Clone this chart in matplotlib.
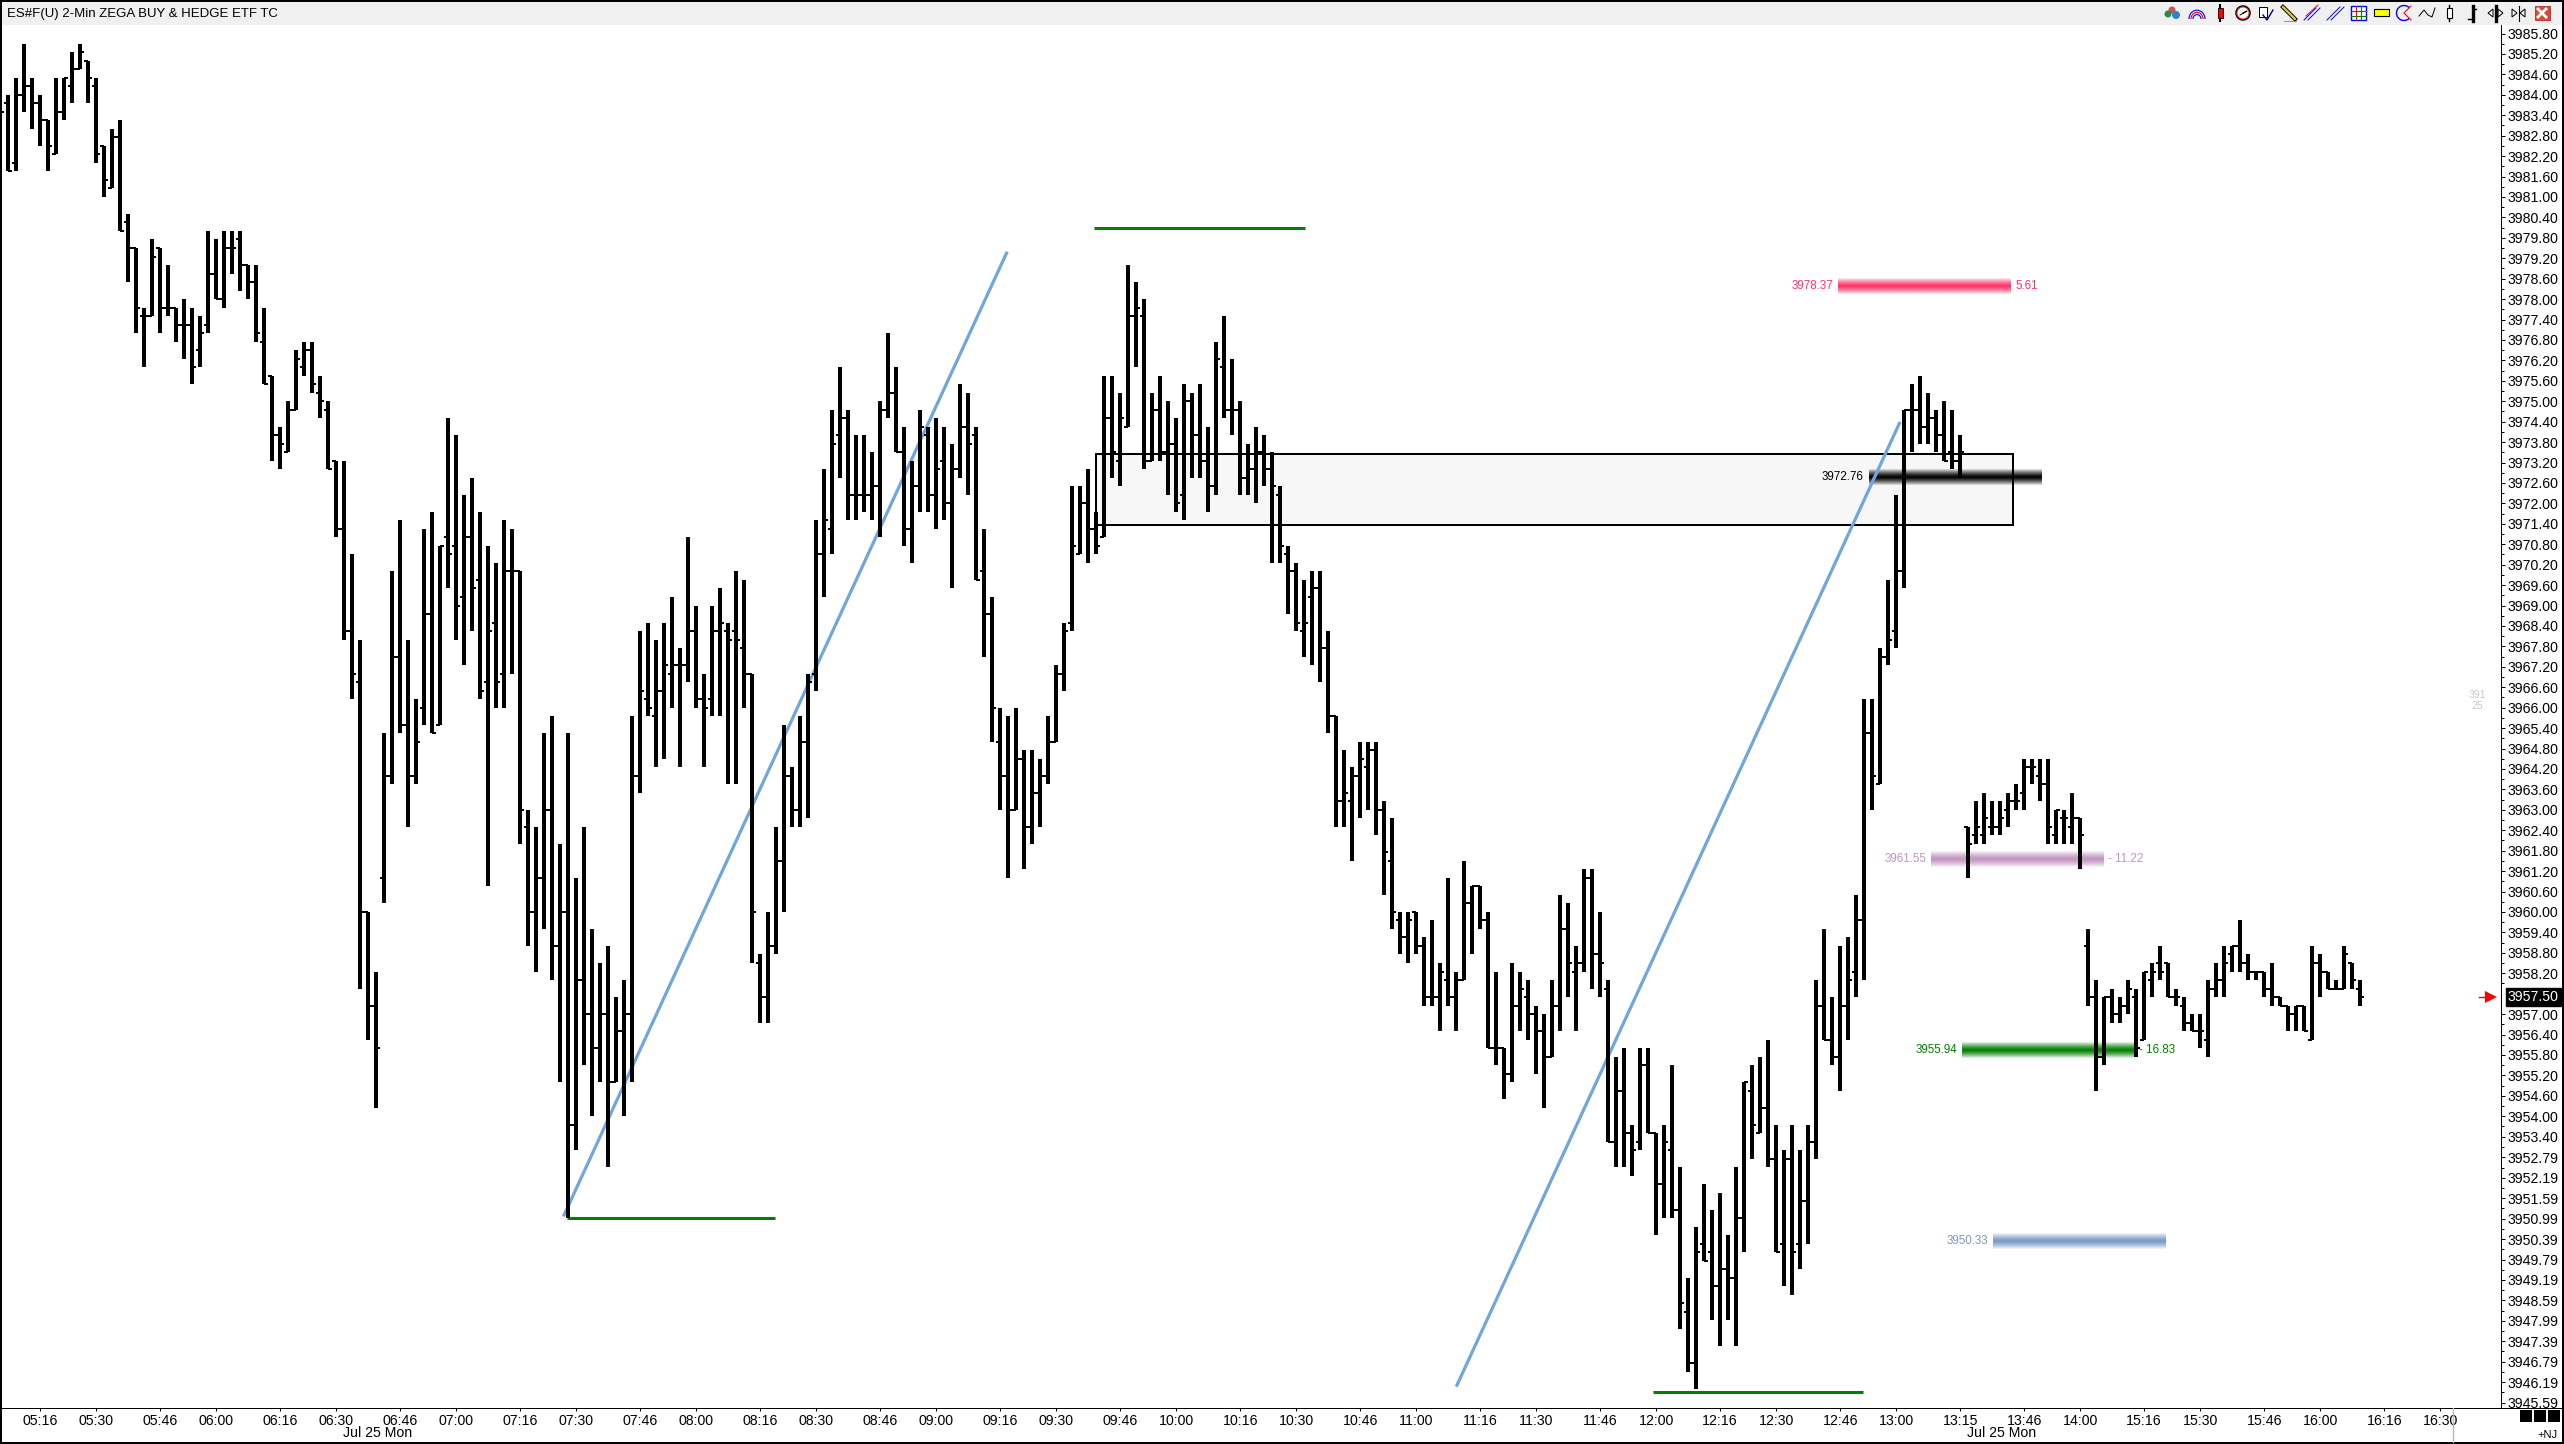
#!/usr/bin/env python3
# ES 2-min OHLC chart with the zones and trend lines on top

import numpy as np
import matplotlib
matplotlib.use("Agg")
import matplotlib.pyplot as plt
from matplotlib.patches import Rectangle, Circle, Polygon, Arc

plt.rcParams['font.family'] = ['Liberation Sans', 'DejaVu Sans']

opens = [3983.25,3983.75,3982,3984,3984.25,3983.75,3983.25,3982.25,3983.5,3984.25,
    3984.75,3985,3984.25,3982.5,3981.25,3982.75,3980.25,3979.5,3977.5,3977.5,
    3979.5,3977.75,3977.75,3977.25,3977.25,3976.5,3977.25,3978.75,3978,3979.5,
    3979.75,3979,3978.5,3976.75,3975.75,3974,3973.5,3974.75,3976,3976.5,
    3975.25,3974.75,3973.25,3971.25,3968.25,3966.75,3960,3957.25,3961,3964,
    3967.5,3965.5,3964,3966,3968.75,3965.5,3971,3970.75,3969.25,3971,
    3969.75,3966.75,3968.5,3967,3970,3970,3962.5,3960,3961,3963,
    3959,3960,3953.75,3958,3957,3956,3957,3955,3956.5,3957,
    3964,3966.25,3965.75,3966.5,3967,3967.25,3967.25,3968.25,3966.25,3966.25,
    3968.25,3968.25,3968.25,3967.75,3967,3958.5,3957.5,3959,3961.5,3964,
    3963,3965,3967,3970.5,3971.25,3974,3974.5,3972.25,3972.25,3972.25,
    3972.5,3974.75,3975.25,3973.5,3971.25,3972.5,3974,3972.25,3973.25,3972,
    3973,3974.25,3974,3970,3968.75,3965,3964,3963,3964.5,3962.5,
    3963.5,3964,3965,3967,3968.5,3970.5,3972,3971.25,3971,3974.5,
    3973.25,3974.25,3977.5,3977.5,3973.25,3974.75,3973.5,3973.75,3972.25,3975,
    3974,3973.25,3972.5,3976,3974.75,3974.75,3972.75,3973,3973.5,3973,
    3972.25,3970.5,3970,3968.25,3969.25,3969.5,3967.75,3965.75,3963.25,3963.25,
    3964,3964.25,3964.75,3963,3961.5,3959.75,3959.25,3960,3959,3957.5,
    3957.5,3958,3957.5,3958,3960.25,3960.75,3959.75,3956,3956,3955.25,
    3957.25,3957.5,3957,3956.5,3955.75,3957.25,3959.5,3958.25,3958.5,3961,
    3958.75,3957.75,3953.25,3954.75,3953.5,3953.25,3955.5,3953.5,3952,3953,
    3951.25,3948.25,3946.75,3950.25,3950,3949,3949.5,3949.25,3951,3954.75,
    3953.5,3954.25,3952.75,3950.25,3952.75,3950.25,3951.5,3953.25,3957.25,3956.25,
    3955.75,3957.25,3958.25,3959.75,3965.25,3963.75,3967.5,3968.25,3970,3974.75,
    3974.75,3974.25,3974.5,3974,3973.5,3973.25,3962.5,3962.25,3962.25,3962.5,
    3962.5,3963,3963.25,3963.5,3964.25,3964,3963.75,3962.25,3962.75,3962.5,
    3962.75,3959,3957.5,3955.75,3957.5,3957,3957.25,3957.5,3956.25,3958,
    3958.5,3958.5,3957.5,3957.25,3956.75,3956.5,3956.25,3957.75,3958,3958.75,
    3959,3958.5,3958.25,3958.25,3957.75,3957.5,3957.25,3957,3957.25,3956.25,
    3958.5,3958.25,3957.75,3957.75,3958.5,3957.75]
highs = [3984,3984,3984.5,3985.5,3984.5,3984,3983.25,3984.5,3984.5,3985.25,
    3985.5,3985,3984.5,3982.5,3983,3983.25,3980.5,3979.5,3977.75,3979.75,
    3979.5,3979,3977.75,3978,3977.75,3977.5,3980,3979.75,3980,3980,
    3980,3979,3979,3977.75,3975.75,3974.25,3975,3976.5,3976.75,3976.75,
    3975.75,3975,3973.25,3973.25,3970.5,3968,3960,3958.25,3965.25,3970,
    3971.5,3968,3966.25,3971.25,3971.75,3970.75,3974.5,3974,3972.25,3972.75,
    3971.75,3970.75,3970.25,3971.5,3971.25,3970,3963,3962.5,3965.25,3965.75,
    3962,3965.25,3961,3962.5,3959.5,3958.5,3959,3957.5,3958,3965.75,
    3968.25,3968.5,3968,3968.5,3969.25,3967.75,3971,3969,3967,3969,
    3969.5,3968.5,3970,3969.75,3967,3958.75,3960,3962.5,3965.5,3964.25,
    3965.75,3967,3971.5,3973,3974.75,3976,3974.75,3974,3974,3973.5,
    3975,3977,3976,3974.25,3973.25,3974.75,3974.25,3974.5,3974.25,3973.75,
    3975.5,3975.25,3974.25,3971.25,3969.25,3966,3965.75,3966,3964.75,3964.75,
    3964.5,3965.75,3967.25,3968.5,3972.5,3972.5,3973,3971.75,3975.75,3975.75,
    3975.25,3979,3978.5,3978,3975.25,3975.75,3975,3974.5,3975.5,3975.25,
    3975.5,3974.25,3976.75,3977.5,3976.25,3975,3973.75,3974.25,3974,3973.5,
    3972.5,3970.75,3970.25,3969.75,3970,3970,3968.25,3965.75,3964.75,3964.25,
    3965,3965,3965,3963.25,3962.75,3960,3960,3960,3959.25,3959.75,
    3958.5,3961,3958.25,3961.5,3960.75,3960.75,3960,3958.25,3956,3958.5,
    3958.25,3958,3957.25,3957,3958,3960.5,3960.25,3959,3961.25,3961.25,
    3960,3958,3955.75,3956,3953.75,3956,3956,3953.5,3953.75,3955.5,
    3952.5,3949.25,3950.75,3952,3951.25,3951.75,3950.5,3952.5,3955,3955.5,
    3955.75,3956.25,3953.75,3953,3953.75,3953,3953.75,3958,3959.5,3957.5,
    3959,3959.25,3960.5,3966.25,3966.25,3967.75,3969.75,3972.25,3974.75,3975.5,
    3975.75,3975.25,3974.75,3975,3974.75,3974,3962.5,3963.25,3963.5,3963.25,
    3963.25,3963.5,3963.75,3964.5,3964.5,3964.5,3964.5,3963,3963,3963.5,
    3962.75,3959.5,3958,3957.5,3957.75,3957.5,3958,3957.75,3958.25,3958.5,
    3959,3958.5,3957.75,3957.5,3957,3957,3958,3958.5,3959,3959,
    3959.75,3958.75,3958.25,3958.25,3958.5,3957.5,3957.25,3957.25,3957.25,3959,
    3958.75,3958.25,3958,3959,3958.5,3958]
lows = [3982,3981.75,3981.75,3983.5,3983,3982.5,3981.75,3982.25,3983.25,3983.75,
    3984.75,3983.75,3982,3981,3981.25,3980,3978.5,3977,3976,3977.5,
    3977,3977.5,3976.75,3976.25,3975.5,3976,3977,3978,3977.75,3978.75,
    3978.25,3978,3976.75,3975.5,3973.25,3973,3973.5,3974.75,3975.75,3975.25,
    3974.5,3973,3971,3968,3966.25,3957.75,3956.25,3954.25,3960.25,3963.75,
    3965.25,3962.5,3963.75,3965.5,3965.25,3965.5,3969.5,3968,3967.25,3968.25,
    3966.25,3960.75,3966,3966,3967,3962,3959,3958.25,3959.5,3958,
    3955,3951,3953,3955.5,3954,3955,3952.5,3955,3954,3955,
    3963.5,3965.75,3964.25,3964.5,3966,3964.25,3966.75,3966,3964.25,3965.75,
    3965.75,3963.75,3963.75,3966,3958.5,3956.75,3956.75,3958.75,3960,3962.5,
    3962.5,3962.75,3966.5,3969.25,3970.5,3972.75,3971.5,3971.5,3971.75,3971.5,
    3971,3974.5,3973.5,3970.75,3970.25,3971.75,3971.75,3971.25,3971.5,3969.5,
    3972.75,3972.25,3969.75,3967.5,3965,3963,3961,3963,3961.25,3962,
    3962.5,3963.75,3965,3966.5,3968.25,3970.5,3970.25,3970.5,3971,3972.75,
    3972.5,3974.25,3976,3973,3973.25,3973.25,3972.25,3971.75,3971.5,3972.75,
    3972.75,3971.75,3972.25,3974.5,3974,3972.25,3972.25,3972,3972.5,3970.25,
    3970.25,3968.75,3968.25,3967.5,3967.25,3966.75,3965.25,3962.5,3962.5,3961.5,
    3962.75,3963,3962.25,3960.5,3959.5,3958.75,3958.5,3958.75,3957.25,3957.25,
    3956.5,3957.25,3956.5,3958,3958.75,3959.5,3956,3955.5,3954.5,3955,
    3956.5,3956.25,3955.25,3954.25,3955.75,3956.5,3957.5,3956.5,3958.25,3957.75,
    3957.5,3953.25,3952.5,3952.5,3952.25,3953,3953.5,3950.5,3951,3951,
    3947.75,3946.5,3946,3949.75,3948,3947.25,3948,3947.25,3950,3952.75,
    3953.5,3952.5,3950,3949,3948.75,3949.5,3950.25,3952.75,3956.25,3955.5,
    3954.75,3956.25,3957.5,3958,3963,3963.75,3967.25,3967.75,3969.5,3973.5,
    3973.75,3973.75,3973.5,3973.25,3973,3972.75,3961,3962,3962,3962.25,
    3962.25,3962.5,3963,3963,3963.75,3963.25,3962,3962,3962,3962,
    3961.25,3957.25,3954.75,3955.5,3956.75,3956.75,3957,3955.75,3956.25,3957.5,
    3958,3957.5,3957.25,3956.5,3956.5,3956,3955.75,3957.5,3957.5,3958.25,
    3958.25,3958,3958,3957.5,3957.25,3957.25,3956.5,3956.5,3956.5,3956.25,
    3957.5,3957.75,3957.75,3957.75,3957.75,3957.25]
closes = [3983.5,3981.75,3984,3984.25,3983.75,3983.25,3982.5,3983.5,3984.5,3984.75,
    3985.25,3984.5,3982.25,3981.5,3982.75,3980,3979.5,3977.75,3977.5,3979.25,
    3977.75,3977.75,3977.25,3977.25,3976,3977,3978.75,3978,3979.5,3979.5,
    3979,3978.5,3977,3975.5,3974,3973.75,3974.75,3976.25,3976.5,3975.5,
    3975,3973,3971.25,3968.25,3967,3960,3957.25,3956,3964,3967.5,
    3965.5,3964,3965,3968.75,3965.25,3970.75,3970.5,3969,3971,3969.5,
    3966.5,3968.25,3966.75,3970,3970,3963,3960,3961,3963,3959,
    3960,3953.75,3958,3957,3956,3957,3955,3956.5,3957,3964,
    3966.5,3966,3966.5,3967.25,3967.25,3967.25,3968.25,3966.25,3966,3968.25,
    3968.5,3968,3968,3967,3960,3957.5,3959,3961.5,3964,3963,
    3965,3966.75,3970.5,3971.5,3973.75,3974.5,3972.25,3972.25,3972.25,3972.5,
    3974.75,3975.25,3973.5,3971.25,3972.5,3974.25,3972.25,3973,3972,3973,
    3974.25,3973.75,3969.75,3968.75,3966,3964,3963,3964.5,3962.5,3963.5,
    3964,3965,3967,3968.25,3970.75,3972,3971.25,3970.75,3974.5,3973.5,
    3974.5,3977.5,3977.75,3973.25,3974.75,3973.5,3973.75,3972,3975,3974,
    3973.25,3972.5,3976.25,3974.75,3974.75,3972.75,3973,3973.5,3973,3972.5,
    3970.75,3970,3968.5,3968.5,3969.5,3967.75,3965.75,3963.25,3963.5,3964,
    3964.5,3964.75,3963,3961.75,3960,3959.25,3959.75,3959,3957.5,3957.5,
    3958.25,3957.5,3958,3960.25,3960.75,3959.75,3956,3956,3955.25,3957.25,
    3957.75,3957,3956.5,3955.75,3957.25,3959.5,3958.5,3958.5,3961,3958.75,
    3958.5,3953.25,3954.75,3953.5,3953,3955.5,3953.5,3952,3953.25,3951.25,
    3948.5,3946.75,3950,3949.75,3949,3949.5,3949.25,3951,3955,3953.75,
    3954.25,3952.75,3950,3952.75,3950,3951.5,3953.25,3957.25,3956.25,3955.75,
    3957.25,3958,3959.75,3965.25,3964,3967.5,3968,3970,3974.75,3974.75,
    3974.25,3974.5,3974,3973.25,3973.25,3973.5,3962,3962.5,3962.75,3962.5,
    3962.75,3963.25,3963.25,3964.25,3964.25,3963.75,3962.5,3963,3962.75,3962.75,
    3962.25,3957.5,3955.75,3957.5,3957,3957.25,3957.75,3956,3958.25,3958.25,
    3958.25,3957.5,3957.5,3956.75,3956.5,3956.5,3957.75,3958,3958.5,3959,
    3958.5,3958.25,3958.25,3957.75,3957.5,3957.25,3957,3957.25,3956.5,3958.5,
    3958.25,3957.75,3957.75,3958.75,3958,3957.5]

time_ticks = [5,12,20,27,35,42,50,57,65,72,80,87,95,102,110,117,125,132,140,147,155,162,170,177,185,
    192,200,207,215,222,230,237,245,253,260,268,275,283,290,298,305]
time_labels = ['05:16','05:30','05:46','06:00','06:16','06:30','06:46','07:00','07:16','07:30','07:46',
    '08:00','08:16','08:30','08:46','09:00','09:16','09:30','09:46','10:00','10:16','10:30','10:46',
    '11:00','11:16','11:30','11:46','12:00','12:16','12:30','12:46','13:00','13:15','13:46','14:00',
    '15:16','15:30','15:46','16:00','16:16','16:30']

price_ticks = [3985.80,3985.20,3984.60,3984.00,3983.40,3982.80,3982.20,3981.60,3981.00,3980.40,3979.80,
    3979.20,3978.60,3978.00,3977.40,3976.80,3976.20,3975.60,3975.00,3974.40,3973.80,3973.20,3972.60,
    3972.00,3971.40,3970.80,3970.20,3969.60,3969.00,3968.40,3967.80,3967.20,3966.60,3966.00,3965.40,
    3964.80,3964.20,3963.60,3963.00,3962.40,3961.80,3961.20,3960.60,3960.00,3959.40,3958.80,3958.20,
    3957.00,3956.40,3955.80,3955.20,3954.60,3954.00,3953.40,3952.79,3952.19,3951.59,3950.99,3950.39,
    3949.79,3949.19,3948.59,3947.99,3947.39,3946.79,3946.19,3945.59]

# supply/demand zones: price, first and last bar, colour
zone_prices = [3978.37, 3972.76, 3961.55, 3955.94, 3950.33]
zone_starts = [229.75, 233.6, 241.4, 245.25, 249.1]
zone_ends = [251.25, 255.1, 262.9, 266.75, 270.6]
zone_colors = [(1, 0.2, 0.4), (0, 0, 0), (0.76, 0.58, 0.76), (0, 0.5, 0), (0.48, 0.6, 0.78)]
zone_right = ['5.61', '', '- 11.22', '- 16.83', '']

box_bars = [136.96, 251.6]
box_prices = [3971.35, 3973.45]
trend1_bars, trend1_prices = [70.5, 125.8], [3951.1, 3979.35]
trend2_bars, trend2_prices = [182.1, 237.4], [3946.1, 3974.35]
green_bars = [[70.9, 96.9], [136.75, 163.1], [206.6, 232.8]]
green_prices = [3951.0, 3980.08, 3945.9]

W, H = 2564, 1444
fig = plt.figure(figsize=(W/100, H/100), dpi=100, facecolor='white')
ax = fig.add_axes([2/W, (H-1408)/H, 2499/W, 1383/H])

x = np.arange(len(opens))
ax.vlines(x, lows, highs, colors='k', linewidth=2.88, antialiased=False, capstyle='butt', zorder=6)
ax.hlines(opens, x-0.5, x, colors='k', linewidth=1.44, antialiased=False, zorder=6)
ax.hlines(closes, x, x+0.5, colors='k', linewidth=1.44, antialiased=False, zorder=6)

ax.add_patch(Rectangle((box_bars[0], box_prices[0]), box_bars[1]-box_bars[0], box_prices[1]-box_prices[0],
                       fc='#f7f7f7', ec='k', lw=1.44, zorder=1))

# zones fade out to the top and bottom
fade = 1-np.abs(np.linspace(-1, 1, 17))**1.3
for p, a, b, c, r in zip(zone_prices, zone_starts, zone_ends, zone_colors, zone_right):
    img = np.zeros((17, 1, 4))
    img[:, :, :3] = c
    img[:, 0, 3] = fade
    ax.imshow(img, extent=[a, b, p-0.25, p+0.25], aspect='auto', interpolation='bilinear', zorder=2)
    ax.annotate('%.2f' % p, (a, p), xytext=(-5, 0), textcoords='offset pixels', ha='right', va='center',
                color=c, fontsize=8.4, zorder=7)
    if r:
        ax.annotate(r, (b, p), xytext=(5, 0), textcoords='offset pixels', ha='left', va='center',
                    color=c, fontsize=8.4, zorder=7)

ax.plot(trend1_bars, trend1_prices, color='#6fa6e0', lw=2.3, zorder=3)
ax.plot(trend2_bars, trend2_prices, color='#6fa6e0', lw=2.3, zorder=3)
for b, p in zip(green_bars, green_prices):
    ax.plot(b, [p, p], color='#007f00', lw=2.2, solid_capstyle='butt', zorder=4)

ax.set_xlim(0.24, 312.6)
ax.set_ylim(3945.43, 3986.05)

ax.set_xticks(time_ticks)
ax.set_xticklabels(time_labels, fontsize=10.2)
ax.tick_params(axis='x', direction='out', length=2.5, width=0.72, pad=1.5)
ax.yaxis.tick_right()
ax.set_yticks(price_ticks)
ax.set_yticklabels(['%.2f' % p for p in price_ticks], fontsize=10.2)
ax.set_yticks([p-0.3 for p in price_ticks[:-1]], minor=True)
ax.tick_params(axis='y', which='major', direction='out', length=3, width=0.72, pad=1.5)
ax.tick_params(axis='y', which='minor', direction='out', length=2, width=0.72)
ax.spines['top'].set_visible(False)
ax.spines['left'].set_visible(False)
ax.spines['right'].set_linewidth(0.72)
ax.spines['bottom'].set_linewidth(0.72)

# last price box and arrow on the price scale
ax.annotate('%.2f' % closes[-1], (1, closes[-1]), xycoords=ax.get_yaxis_transform(), xytext=(7, 0),
            textcoords='offset pixels', ha='left', va='center', color='white', fontsize=10.2,
            bbox=dict(fc='k', ec='k', pad=1.5), annotation_clip=False, zorder=8)
ax.plot([311.4], [closes[-1]], marker='>', color='red', ms=8, mew=0, zorder=7)
ax.plot([309.8, 311.4], [closes[-1], closes[-1]], color='red', lw=1, zorder=7)
ax.text(1-24/2499, 3966.2, '391\n25', transform=ax.get_yaxis_transform(), ha='center', va='center',
        color='#c8c8c8', fontsize=7.5, linespacing=1.15)

# window chrome in pixel coordinates
top = fig.add_axes([0, 0, 1, 1], facecolor='none')
top.set_xlim(0, W)
top.set_ylim(H, 0)
top.axis('off')
top.add_patch(Rectangle((2, 2), W-4, 23, fc='#f0f0f0', ec='none'))
top.text(7, 13.5, 'ES#F(U) 2-Min ZEGA BUY & HEDGE ETF TC', fontsize=9.5, ha='left', va='center')
top.plot([2501, W], [1408, 1408], color='k', lw=0.72)
top.plot([2453, 2453], [1408, 1442], color='#b8b8b8', lw=1.0)
for cx in [378, 2002]:
    top.text(cx, 1433, 'Jul 25 Mon', fontsize=10.2, ha='center', va='center')
for bx in [2520, 2534, 2548]:
    top.add_patch(Rectangle((bx, 1410), 12, 12, fc='k', ec='none'))
top.text(2558, 1435, '+NJ', fontsize=8, ha='right', va='center')

# toolbar icons
top.add_patch(Circle((2172, 10), 3.5, fc='#d05050', ec='none'))
top.add_patch(Circle((2168, 14), 3.5, fc='#2a8a4a', ec='none'))
top.add_patch(Circle((2176, 15), 4, fc='#2f7fd0', ec='none'))
for r, c in zip([16, 12, 8], ['b', 'r', 'b']):
    top.add_patch(Arc((2197, 19), r, r*1.1, theta1=180, theta2=360, ec=c, lw=0.8))
top.plot([2220, 2220], [5, 21], color='k', lw=1.5)
top.add_patch(Rectangle((2217.5, 8), 5, 10, fc='r', ec='k', lw=0.6, zorder=3))
top.add_patch(Circle((2243, 13), 7, fc='white', ec='k', lw=1.1))
top.add_patch(Circle((2243, 13), 6, fc='none', ec='r', lw=0.6))
top.plot([2243, 2247, 2240], [13, 11, 15], color='k', lw=0.7)
top.add_patch(Rectangle((2259, 7), 8, 10, fc='white', ec='k', lw=0.7))
top.plot([2263, 2267, 2273], [15, 20, 10], color='navy', lw=1)
top.plot([2283, 2295], [7, 19], color='k', lw=3)
top.plot([2283, 2295], [7, 19], color='#e8d020', lw=1.6)
top.plot([2284, 2296], [20.5, 20.5], color='gray', lw=0.6)
top.plot([2304, 2316], [20, 8], color='b', lw=0.7)
top.plot([2308, 2320], [20, 8], color='b', lw=0.7)
top.plot([2306, 2318], [16, 5], color='r', lw=0.7)
top.plot([2327, 2340], [20, 7], color='b', lw=0.7)
top.plot([2331, 2344], [20, 7], color='b', lw=0.7)
top.add_patch(Rectangle((2350.5, 6), 15, 14, fc='white', ec='b', lw=1))
top.plot([2350.5, 2365.5], [11, 11], color='r', lw=0.8)
top.plot([2350.5, 2365.5], [16, 16], color='g', lw=0.8)
top.plot([2355.5, 2355.5], [6, 20], color='r', lw=0.8)
top.plot([2360.5, 2360.5], [6, 20], color='g', lw=0.8)
top.add_patch(Rectangle((2373.5, 9), 15, 7, fc='#ffff00', ec='k', lw=0.8))
top.add_patch(Arc((2404, 13), 15, 15, theta1=45, theta2=315, ec='b', lw=1))
top.plot([2411, 2404, 2411], [6, 13, 20], color='r', lw=0.8)
top.plot([2419, 2424, 2428, 2432, 2435], [16, 10, 15, 17, 8], color='k', lw=0.7)
top.plot([2449, 2449], [5, 21], color='k', lw=1)
top.add_patch(Rectangle((2446.5, 8), 5, 10, fc='white', ec='k', lw=0.8, zorder=3))
top.plot([2472.5, 2472.5], [6, 21], color='k', lw=2.4)
top.plot([2472.5, 2476], [9, 9], color='k', lw=1)
top.plot([2468, 2472.5], [19, 19], color='k', lw=1)
top.plot([2495.5, 2495.5], [6, 21], color='k', lw=2.4)
top.add_patch(Polygon([[2493, 9], [2488, 13], [2493, 17]], fc='none', ec='k', lw=0.7))
top.add_patch(Polygon([[2498, 9], [2503, 13], [2498, 17]], fc='none', ec='k', lw=0.7))
top.plot([2518.5, 2518.5], [6, 21], color='k', lw=0.8)
top.add_patch(Polygon([[2512, 9], [2517, 13], [2512, 17]], fc='none', ec='k', lw=0.7))
top.add_patch(Polygon([[2525, 9], [2520, 13], [2525, 17]], fc='none', ec='k', lw=0.7))
top.add_patch(Rectangle((2534.5, 6), 15, 14, fc='#d94a3a', ec='#b03020', lw=0.6))
top.plot([2538, 2546], [9, 17], color='white', lw=2)
top.plot([2538, 2546], [17, 9], color='white', lw=2)

# black frame round the window
top.add_patch(Rectangle((1, 1), W-2, H-2, fc='none', ec='k', lw=1.44))

fig.savefig('out.png', dpi=100, facecolor='white')
